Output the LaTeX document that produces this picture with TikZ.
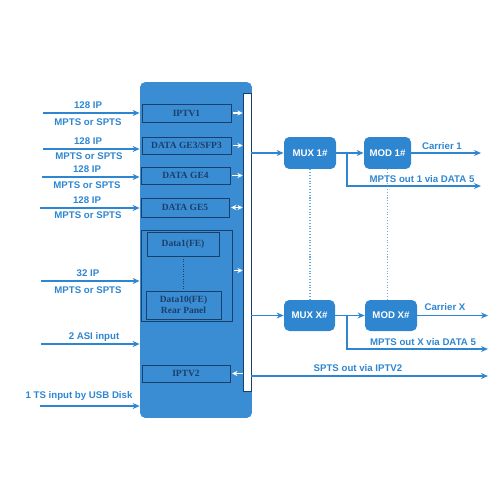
\documentclass[tikz,border=0pt]{standalone}
\usepackage{fontspec}
\setmainfont{Liberation Sans}
\newfontfamily\portfont{Liberation Serif}
\usetikzlibrary{arrows.meta,calc}

\definecolor{panelblue}{HTML}{3A8DD2}
\definecolor{linkblue}{HTML}{2F86D0}
\definecolor{portnavy}{HTML}{1B3F6B}

\begin{document}
\begin{tikzpicture}[x=0.02cm,y=-0.02cm,>={Stealth[length=4pt,width=3.4pt]},
  font=\fontsize{5.5}{6.4}\selectfont\bfseries,
  feed/.style={->,draw=linkblue,line width=0.7pt},
  lbl/.style={text=linkblue,inner sep=1pt},
  port/.style={draw=portnavy,line width=0.5pt,text=portnavy,inner sep=0pt,
    font=\portfont\fontsize{5.4}{6.4}\selectfont\bfseries,align=center},
  tick/.style={->,draw=white,line width=0.7pt,>={Stealth[length=3pt,width=3pt]}},
  stage/.style={fill=linkblue,rounded corners=3pt,text=white,inner sep=0pt,
    minimum height=0.64cm}]
  \useasboundingbox (0,0) rectangle (500,500);
  % the main unit with its ports and the backplane bar
  \node[fill=panelblue,rounded corners=3pt,minimum width=2.24cm,minimum height=6.72cm,
    inner sep=0pt] (panel) at (196,250) {};
  \node[draw=portnavy,fill=white,line width=0.4pt,minimum width=0.16cm,
    minimum height=5.96cm,inner sep=0pt] (bar) at (247,242) {};
  \node[port,minimum width=1.78cm,minimum height=0.36cm] (iptv1) at (186.5,113) {IPTV1};
  \node[port,minimum width=1.78cm,minimum height=0.34cm] (ge3) at (186.5,145.5) {DATA GE3/SFP3};
  \node[port,minimum width=1.78cm,minimum height=0.34cm] (ge4) at (185.5,175.5) {DATA GE4};
  \node[port,minimum width=1.76cm,minimum height=0.38cm] (ge5) at (185,207.5) {DATA GE5};
  \node[port,minimum width=1.82cm,minimum height=1.82cm] (grp) at (186.5,275.5) {};
  \node[port,minimum width=1.44cm,minimum height=0.48cm] (fe1) at (183,244) {Data1(FE)};
  \node[port,minimum width=1.50cm,minimum height=0.56cm] (fe10) at (183.5,305)
    {Data10(FE)\\Rear Panel};
  \node[port,minimum width=1.76cm,minimum height=0.34cm] (iptv2) at (186,373.5) {IPTV2};
  \draw[portnavy,densely dotted,line width=0.4pt] (fe1.south) -- (fe1.south |- fe10.north);
  % ports to the bar
  \draw[tick,shorten <=1pt] (iptv1.east) -- (iptv1.east -| bar.west);
  \draw[tick,shorten <=1pt] (ge3.east) -- (ge3.east -| bar.west);
  \draw[tick,shorten <=1pt] (ge4.east) -- (ge4.east -| bar.west);
  \draw[tick,<->,shorten <=1pt] (ge5.east) -- (ge5.east -| bar.west);
  \coordinate (grpout) at ($(grp.east)+(0,-5)$);
  \draw[tick,shorten <=1pt] (grpout) -- (grpout -| bar.west);
  \draw[tick,shorten >=1pt] (iptv2.east -| bar.west) -- (iptv2.east);
  % inputs on the left
  \coordinate (in1) at (43,113);
  \coordinate (in2) at (43,149);
  \coordinate (in3) at (42,177);
  \coordinate (in4) at (40,208);
  \coordinate (in5) at (41,281);
  \coordinate (in6) at (41,344);
  \coordinate (in7) at (40,406);
  \foreach \i in {1,...,7}
    \draw[feed] (in\i) -- (in\i -| panel.west);
  \node[lbl] (ip1) at (88,105) {128 IP};
  \node[lbl] (ts1) at (88,122) {MPTS or SPTS};
  \node[lbl] (ip2) at (88,141) {128 IP};
  \node[lbl] (ts2) at (89,156) {MPTS or SPTS};
  \node[lbl] (ip3) at (87,169) {128 IP};
  \node[lbl] (ts3) at (87,185) {MPTS or SPTS};
  \node[lbl] (ip4) at (87,200) {128 IP};
  \node[lbl] (ts4) at (88,215) {MPTS or SPTS};
  \node[lbl] (ip5) at (88,273) {32 IP};
  \node[lbl] (ts5) at (88,290) {MPTS or SPTS};
  \node[lbl] (asi) at (94,337) {2 ASI input};
  \node[lbl] (usb) at (79,396) {1 TS input by USB Disk};
  % multiplexers and modulators
  \node[stage,minimum width=1.04cm] (mux1) at (310,153) {MUX 1\#};
  \node[stage,minimum width=0.94cm] (mod1) at (387.5,153) {MOD 1\#};
  \node[stage,minimum width=1.02cm,minimum height=0.62cm] (muxx) at (309.5,315.5) {MUX X\#};
  \node[stage,minimum width=1.04cm,minimum height=0.62cm] (modx) at (391,315.5) {MOD X\#};
  \draw[linkblue!70,densely dotted,line width=0.6pt] (mux1.south) -- (mux1.south |- muxx.north);
  \draw[linkblue!70,densely dotted,line width=0.6pt] (mod1.south) -- (mod1.south |- modx.north);
  \draw[feed] (mux1 -| bar.east) -- (mux1);
  \draw[feed] (muxx -| bar.east) -- (muxx);
  \draw[feed] (mux1) -- (mod1);
  \draw[feed] (muxx) -- (modx);
  % outputs on the right
  \coordinate (car1) at (481,153);
  \coordinate (carx) at (488,315.5);
  \coordinate (br1) at (347,153);
  \coordinate (brx) at (347,315.5);
  \coordinate (data1) at (481,186);
  \coordinate (datax) at (488,349);
  \coordinate (spts) at (488,376);
  \draw[feed] (mod1) -- (car1);
  \draw[feed] (modx) -- (carx);
  \draw[feed] (br1) |- (data1);
  \draw[feed] (brx) |- (datax);
  \draw[feed] (spts -| bar.east) -- (spts);
  \node[lbl] (c1) at (442,146) {Carrier 1};
  \node[lbl] (cx) at (445,307) {Carrier X};
  \node[lbl] (d1) at (422,179) {MPTS out 1 via DATA 5};
  \node[lbl] (dx) at (423,342) {MPTS out X via DATA 5};
  \node[lbl] (sp) at (358,368) {SPTS out via IPTV2};
\end{tikzpicture}
\end{document}
